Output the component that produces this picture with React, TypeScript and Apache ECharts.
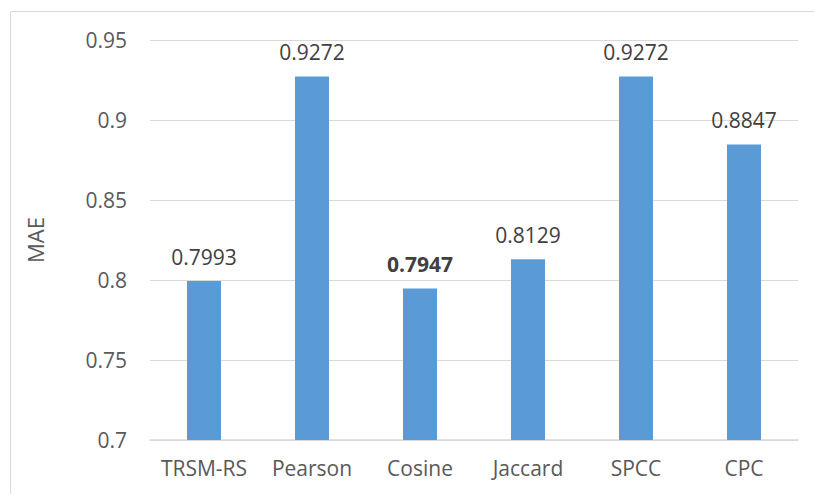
import React, { useEffect, useRef } from "react";
import * as echarts from "echarts";

const categories = ["TRSM-RS", "Pearson", "Cosine", "Jaccard", "SPCC", "CPC"];
const maeValues = [0.7993, 0.9272, 0.7947, 0.8129, 0.9272, 0.8847];
const boldIndex = 2;
const yTicks = { min: 0.7, max: 0.95, interval: 0.05 };

const FONT = "'Open Sans', 'Noto Sans', sans-serif";

export default function App() {
  const ref = useRef<HTMLDivElement>(null);
  useEffect(() => {
    document.body.style.margin = "0";
    const chart = echarts.init(ref.current!, null, { renderer: "svg" });
    chart.setOption({
      animation: false,
      backgroundColor: "#ffffff",
      graphic: [
        {
          type: "rect",
          shape: { x: 10.5, y: 11.5, width: 900, height: 600 },
          style: { fill: "none", stroke: "#d9d9d9", lineWidth: 1 },
          silent: true,
        },
      ],
      grid: { left: 150, right: 16, top: 40, bottom: 54, containLabel: false },
      xAxis: {
        type: "category",
        data: categories,
        axisLine: { show: true, lineStyle: { color: "#d9d9d9", width: 1.5 } },
        axisTick: { show: false },
        axisLabel: {
          interval: 0,
          hideOverlap: false,
          color: "#595959",
          fontFamily: FONT,
          fontSize: 21,
          margin: 17,
        },
      },
      yAxis: {
        type: "value",
        min: yTicks.min,
        max: yTicks.max,
        interval: yTicks.interval,
        name: "MAE",
        nameLocation: "middle",
        nameGap: 104,
        nameRotate: 90,
        nameTextStyle: { color: "#595959", fontFamily: FONT, fontSize: 22 },
        axisLine: { show: false },
        axisTick: { show: false },
        splitLine: { lineStyle: { color: "#d9d9d9", width: 1 } },
        axisLabel: {
          color: "#595959",
          fontFamily: FONT,
          fontSize: 21,
          margin: 23,
          formatter: (v: number) => String(parseFloat(v.toFixed(2))),
        },
      },
      series: [
        {
          type: "bar",
          barWidth: 34,
          itemStyle: { color: "#5B9BD5" },
          label: {
            show: true,
            position: "top",
            distance: 12,
            color: "#404040",
            fontFamily: FONT,
            fontSize: 21,
            lineHeight: 24,
            formatter: (p: any) => p.value.toFixed(4),
          },
          data: maeValues.map((v, i) =>
            i === boldIndex ? { value: v, label: { fontWeight: "bold" } } : v
          ),
        },
      ],
    });
    return () => chart.dispose();
  }, []);
  return <div ref={ref} style={{ width: 814, height: 494 }} />;
}
